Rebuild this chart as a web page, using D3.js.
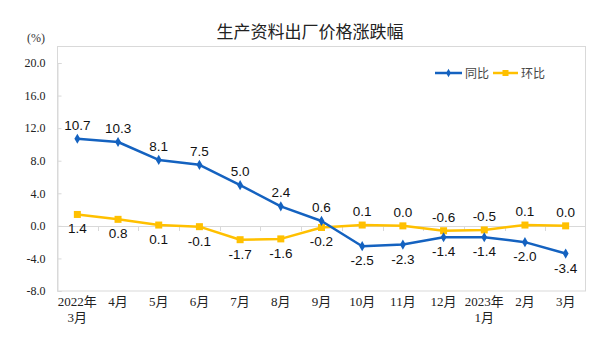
<!DOCTYPE html>
<html>
<head>
<meta charset="utf-8">
<script src="https://cdn.jsdelivr.net/npm/d3@7"></script>
<style>
  html, body { margin: 0; padding: 0; background: #fff; }
  svg { display: block; }
</style>
</head>
<body>
<script>
const categories = ["2022年\n3月", "4月", "5月", "6月", "7月", "8月", "9月", "10月", "11月", "12月", "2023年\n1月", "2月", "3月"];
const yoy = [10.7, 10.3, 8.1, 7.5, 5.0, 2.4, 0.6, -2.5, -2.3, -1.4, -1.4, -2.0, -3.4];
const mom = [1.4, 0.8, 0.1, -0.1, -1.7, -1.6, -0.2, 0.1, 0.0, -0.6, -0.5, 0.1, 0.0];
const yTicks = [-8, -4, 0, 4, 8, 12, 16, 20];
// label placement: 1 = above point, -1 = below point
const yoyLabelPos = [1, 1, 1, 1, 1, 1, 1, -1, -1, -1, -1, -1, -1];
const momLabelPos = [-1, -1, -1, -1, -1, -1, -1, 1, 1, 1, 1, 1, 1];
const seriesNames = ["同比", "环比"];

const W = 610, H = 348;
const box = { left: 57, right: 586, top: 46.5, bottom: 291 };
const blue = "#1462c0", yellow = "#ffc000";
const serif = "'Liberation Serif', 'Times New Roman', 'Noto Sans CJK SC', serif";
const sans = "'Liberation Sans', Arial, 'Noto Sans CJK SC', sans-serif";
const cjk = "'Noto Sans CJK SC', 'Liberation Sans', sans-serif";
const fmt = d => d3.format(".1f")(d).replace("\u2212", "-");

const svg = d3.select("body").append("svg").attr("width", W).attr("height", H);

const x = d3.scaleBand().domain(d3.range(categories.length)).range([box.left, box.right]).padding(0);
const cx = i => x(i) + x.bandwidth() / 2;
const y = d3.scaleLinear().domain([-8, 20]).range([291, 63]);

// title
svg.append("text").attr("x", 310).attr("y", 38).attr("text-anchor", "middle")
  .attr("font-family", cjk).attr("font-size", 17).attr("fill", "#222")
  .text("生产资料出厂价格涨跌幅");

// unit
svg.append("text").attr("x", 36).attr("y", 42).attr("text-anchor", "middle")
  .attr("font-family", serif).attr("font-size", 12).attr("fill", "#333").text("(%)");

// plot box
svg.append("rect").attr("x", box.left + 0.5).attr("y", box.top)
  .attr("width", box.right - box.left - 1).attr("height", box.bottom - box.top)
  .attr("fill", "none").attr("stroke", "#d9d9d9").attr("stroke-width", 1);

// y axis
const yAxis = d3.axisLeft(y).tickValues(yTicks).tickSize(-4).tickPadding(12)
  .tickFormat(fmt);
const yg = svg.append("g").attr("transform", `translate(${box.left + 0.5},0)`).call(yAxis);
yg.select(".domain").attr("stroke", "#d9d9d9");
yg.selectAll(".tick line").attr("stroke", "#d9d9d9");
yg.selectAll(".tick text").attr("font-family", serif).attr("font-size", 12).attr("fill", "#222");

// zero line (category axis) with ticks at band boundaries
svg.append("line").attr("x1", box.left).attr("x2", box.right)
  .attr("y1", Math.round(y(0)) + 0.5).attr("y2", Math.round(y(0)) + 0.5)
  .attr("stroke", "#d9d9d9").attr("stroke-width", 1);
svg.append("g").selectAll("line").data(d3.range(1, categories.length)).join("line")
  .attr("x1", i => Math.round(x(i)) + 0.5).attr("x2", i => Math.round(x(i)) + 0.5)
  .attr("y1", Math.round(y(0))).attr("y2", Math.round(y(0)) + 5)
  .attr("stroke", "#d9d9d9");

// x category labels
const xl = svg.append("g");
categories.forEach((c, i) => {
  const t = xl.append("text").attr("x", cx(i)).attr("y", 306).attr("text-anchor", "middle")
    .attr("font-family", serif).attr("font-size", 13).attr("fill", "#222");
  c.split("\n").forEach((s, k) => {
    t.append("tspan").attr("x", cx(i)).attr("dy", k === 0 ? 0 : 16).text(s);
  });
});

const line = d3.line().x((d, i) => cx(i)).y(d => y(d));

// 环比 series
svg.append("path").datum(mom).attr("d", line).attr("fill", "none")
  .attr("stroke", yellow).attr("stroke-width", 2.5).attr("stroke-linejoin", "round");
svg.append("g").selectAll("rect").data(mom).join("rect")
  .attr("x", (d, i) => cx(i) - 3.5).attr("y", d => y(d) - 3.5)
  .attr("width", 7).attr("height", 7).attr("fill", yellow);

// 同比 series
svg.append("path").datum(yoy).attr("d", line).attr("fill", "none")
  .attr("stroke", blue).attr("stroke-width", 2.5).attr("stroke-linejoin", "round");
svg.append("g").selectAll("path").data(yoy).join("path")
  .attr("transform", (d, i) => `translate(${cx(i)},${y(d)})`)
  .attr("d", d3.symbol(d3.symbolDiamond, 30)).attr("fill", blue);

// data labels
function labels(data, pos) {
  svg.append("g").selectAll("text").data(data).join("text")
    .attr("x", (d, i) => cx(i))
    .attr("y", (d, i) => y(d) + (pos[i] > 0 ? -9 : 19))
    .attr("text-anchor", "middle")
    .attr("font-family", sans).attr("font-size", 13.5).attr("fill", "#111")
    .text(d => fmt(d));
}
labels(yoy, yoyLabelPos);
labels(mom, momLabelPos);

// legend
const legend = [
  { name: seriesNames[0], color: blue, x1: 435, x2: 462, tx: 465, sym: "diamond" },
  { name: seriesNames[1], color: yellow, x1: 493, x2: 518, tx: 521, sym: "square" }
];
const ly = 73;
legend.forEach(l => {
  svg.append("line").attr("x1", l.x1).attr("x2", l.x2).attr("y1", ly).attr("y2", ly)
    .attr("stroke", l.color).attr("stroke-width", 2.5);
  const mx = (l.x1 + l.x2) / 2;
  if (l.sym === "square") {
    svg.append("rect").attr("x", mx - 3).attr("y", ly - 3).attr("width", 6).attr("height", 6).attr("fill", l.color);
  } else {
    svg.append("path").attr("transform", `translate(${mx},${ly})`)
      .attr("d", d3.symbol(d3.symbolDiamond, 20)).attr("fill", l.color);
  }
  svg.append("text").attr("x", l.tx).attr("y", ly + 4.5).attr("font-family", cjk)
    .attr("font-size", 12).attr("fill", "#444").text(l.name);
});
</script>
</body>
</html>
